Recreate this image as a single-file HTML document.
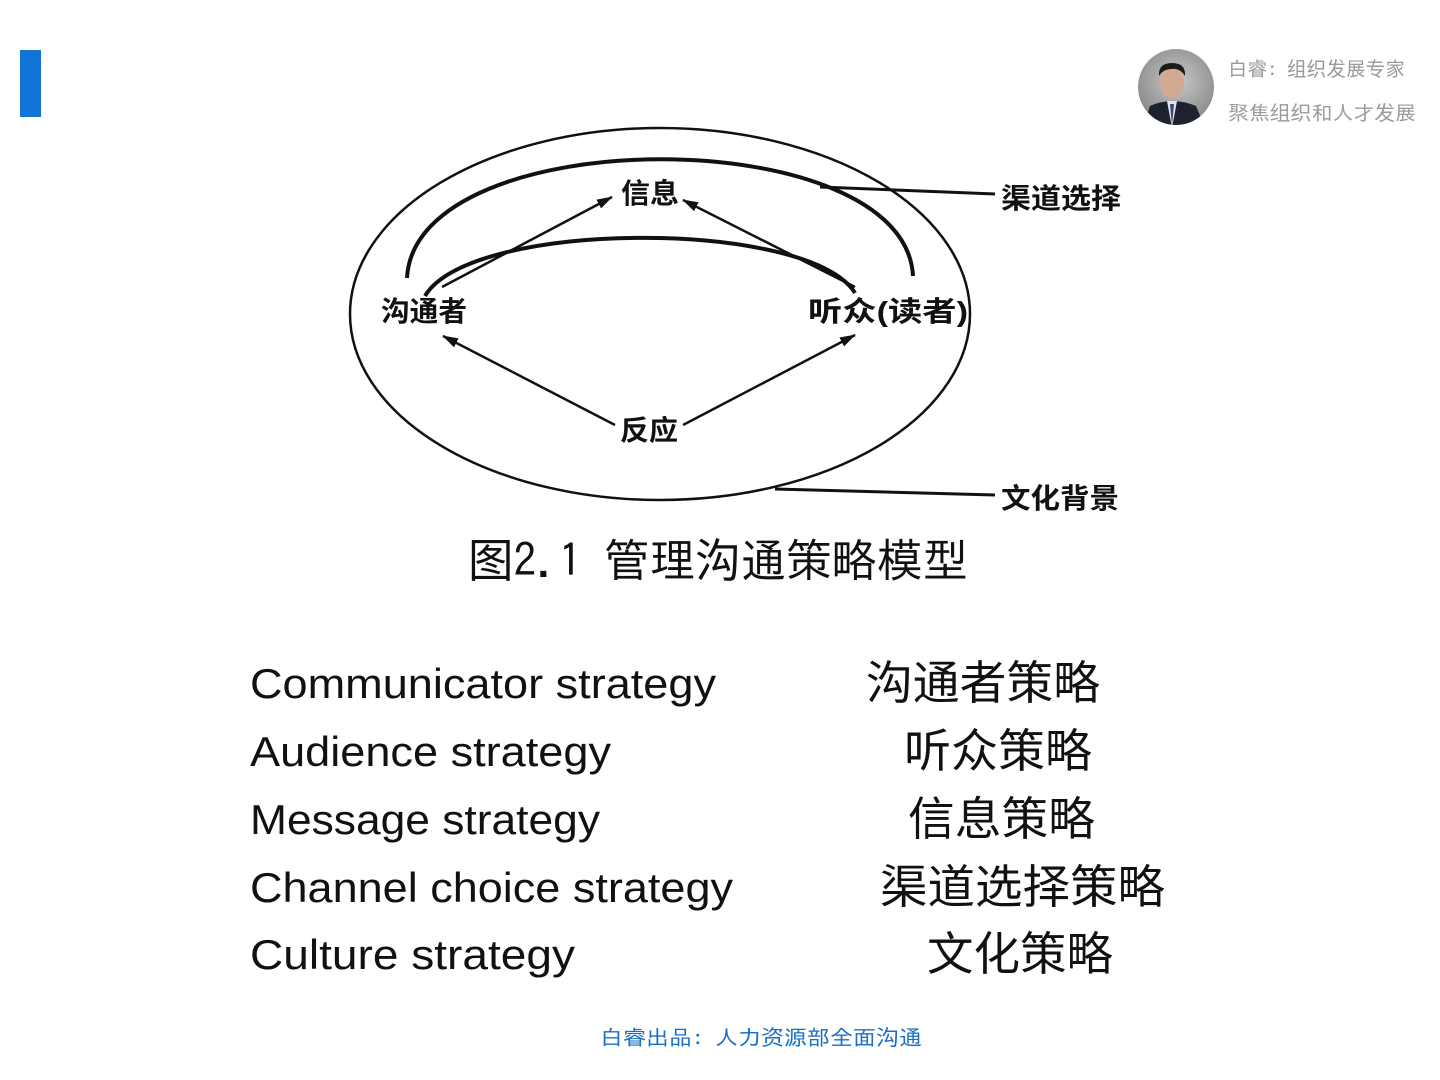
<!DOCTYPE html>
<html><head><meta charset="utf-8"><style>
html,body{margin:0;padding:0;background:#fff;}
svg{display:block;}
text{font-family:"Liberation Sans","Noto Sans CJK SC",sans-serif;}
.cj{font-family:"IPAGothic","Noto Sans CJK SC",sans-serif;}
</style></head><body>
<svg width="1440" height="1080" viewBox="0 0 1440 1080" xmlns="http://www.w3.org/2000/svg">
<defs>
<marker id="ah" markerWidth="16" markerHeight="10" refX="15" refY="5" orient="auto" markerUnits="userSpaceOnUse">
<path d="M0,0 L16,5 L0,10 Z" fill="#111"/></marker>
<clipPath id="cc"><circle cx="1176" cy="87" r="38"/></clipPath>
<radialGradient id="bg" cx="0.5" cy="0.4" r="0.6"><stop offset="0" stop-color="#c8c8c8"/><stop offset="1" stop-color="#7a7a7a"/></radialGradient>
</defs>
<rect x="20" y="50" width="21" height="67" fill="#1174d6"/>
<g clip-path="url(#cc)">
<rect x="1130" y="45" width="95" height="90" fill="url(#bg)"/>
<ellipse cx="1172" cy="82" rx="12" ry="16" fill="#d2aa92"/>
<path d="M1159,76 Q1158,63 1172,63 Q1186,63 1185,76 Q1180,68 1172,69 Q1163,69 1159,76 Z" fill="#1b1b1b"/>
<path d="M1142,130 L1150,106 Q1172,96 1196,106 L1206,130 Z" fill="#1e2230"/>
<path d="M1167,101 L1172,128 L1177,101 Z" fill="#dfe3ee"/>
<path d="M1170,104 L1172,126 L1174,104 Z" fill="#3a4a6a"/>
</g>
<text x="1228" y="76" class="cj" font-size="20" fill="#9a9a9a" textLength="177" lengthAdjust="spacingAndGlyphs">白睿: 组织发展专家</text>
<text x="1228" y="120" class="cj" font-size="20" fill="#9a9a9a" textLength="188" lengthAdjust="spacingAndGlyphs">聚焦组织和人才发展</text>
<g fill="none" stroke="#111">
<ellipse cx="660" cy="314" rx="310" ry="186" stroke-width="2.5"/>
<path d="M407,278 C415,120 905,120 913,276" stroke-width="4"/>
<path d="M425,296 C470,219 810,219 855,293" stroke-width="4"/>
<g stroke-width="2.5" marker-end="url(#ah)">
<line x1="442" y1="287" x2="612" y2="197"/>
<line x1="855" y1="287" x2="683" y2="200"/>
<line x1="615" y1="425" x2="443" y2="336"/>
<line x1="683" y1="425" x2="855" y2="335"/>
</g>
<line x1="820" y1="187" x2="995" y2="194" stroke-width="3"/>
<line x1="775" y1="489" x2="995" y2="495" stroke-width="3"/>
</g>
<g class="cj" font-weight="bold" fill="#111" font-size="28">
<text x="621" y="203" textLength="58" lengthAdjust="spacingAndGlyphs">信息</text>
<text x="381" y="321" textLength="86" lengthAdjust="spacingAndGlyphs">沟通者</text>
<text x="808" y="321" textLength="160" lengthAdjust="spacingAndGlyphs">听众(读者)</text>
<text x="620" y="440" textLength="58" lengthAdjust="spacingAndGlyphs">反应</text>
<text x="1001" y="208" textLength="120" lengthAdjust="spacingAndGlyphs">渠道选择</text>
<text x="1001" y="508" textLength="118" lengthAdjust="spacingAndGlyphs">文化背景</text>
</g>
<text x="468" y="577" class="cj" font-size="46" fill="#111" textLength="500" lengthAdjust="spacingAndGlyphs">图2.1 管理沟通策略模型</text>
<g font-size="42" fill="#111">
<text x="250" y="698" textLength="466" lengthAdjust="spacingAndGlyphs">Communicator strategy</text>
<text x="250" y="766" textLength="361" lengthAdjust="spacingAndGlyphs">Audience strategy</text>
<text x="250" y="834" textLength="350" lengthAdjust="spacingAndGlyphs">Message strategy</text>
<text x="250" y="902" textLength="483" lengthAdjust="spacingAndGlyphs">Channel choice strategy</text>
<text x="250" y="969" textLength="325" lengthAdjust="spacingAndGlyphs">Culture strategy</text>
</g>
<g class="cj" font-size="46" fill="#111">
<text x="866" y="699" textLength="234" lengthAdjust="spacingAndGlyphs">沟通者策略</text>
<text x="904" y="767" textLength="188" lengthAdjust="spacingAndGlyphs">听众策略</text>
<text x="908" y="835" textLength="187" lengthAdjust="spacingAndGlyphs">信息策略</text>
<text x="880" y="903" textLength="285" lengthAdjust="spacingAndGlyphs">渠道选择策略</text>
<text x="927" y="970" textLength="186" lengthAdjust="spacingAndGlyphs">文化策略</text>
</g>
<text x="600" y="1045" class="cj" font-size="21" fill="#1a6fc4" textLength="322" lengthAdjust="spacingAndGlyphs">白睿出品: 人力资源部全面沟通</text>
</svg>
</body></html>
